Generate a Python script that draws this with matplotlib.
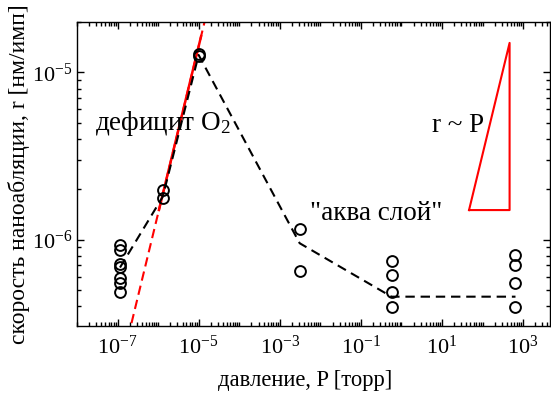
import numpy as np
import matplotlib
matplotlib.use('Agg')
import matplotlib.pyplot as plt
from matplotlib.ticker import FixedLocator, LogLocator, LogFormatterMathtext, NullFormatter

plt.rcParams['font.family'] = ['Liberation Serif', 'DejaVu Serif']
plt.rcParams['mathtext.fontset'] = 'custom'
plt.rcParams['mathtext.rm'] = 'Liberation Serif'
plt.rcParams['mathtext.it'] = 'Liberation Serif:italic'
plt.rcParams['mathtext.default'] = 'regular'

# measured points: pressure [torr] and ablation rate [nm/pulse]
p_meas = [1.15e-7] * 7 + [1.3e-6] * 2 + [1.0e-5] * 2 + [3.1e-3] * 2 + [0.57] * 4 + [650] * 4
r_meas = [9.24e-7, 8.71e-7, 7.10e-7, 6.87e-7, 5.85e-7, 5.46e-7, 4.87e-7,
          1.97e-6, 1.78e-6,
          1.26e-5, 1.29e-5,
          1.15e-6, 6.47e-7,
          7.45e-7, 6.12e-7, 4.87e-7, 3.93e-7,
          8.05e-7, 7.00e-7, 5.53e-7, 3.93e-7]

# guide line through the data
p_trend = [1.15e-7, 1.3e-6, 1.0e-5, 3.1e-3, 0.57, 650]
r_trend = [6.8e-7, 1.8e-6, 1.27e-5, 9.5e-7, 4.55e-7, 4.55e-7]

# linear law r = k*P
k_lin = 1.43
p_lin = [1e-8, 5e3]
p_fit = [1.05e-6, 1.15e-5]

# slope triangle
tri_p = [46.5, 465, 465, 46.5]
tri_r = [1.5e-6, 1.5e-5, 1.5e-6, 1.5e-6]

fig = plt.figure(figsize=(5.51, 3.93), dpi=100)
ax = fig.add_axes([0.1397, 0.1712, 0.8584, 0.7728])
ax.set_xscale('log')
ax.set_yscale('log')

ax.plot(p_lin, [k_lin * p for p in p_lin], '--', color='#ff0000', lw=1.5, dashes=(4.5, 2.5))
ax.plot(p_fit, [k_lin * p for p in p_fit], '-', color='#ff0000', lw=1.8)
ax.plot(p_trend, r_trend, '--', color='black', lw=1.5, dashes=(4.5, 2.8))
ax.plot(p_meas, r_meas, 'o', mfc='none', mec='black', ms=7.8, mew=1.4)
ax.plot(tri_p, tri_r, '-', color='#ff0000', lw=1.5)

ax.text(2.8e-8, 4.49e-6, u'дефицит O$_2$', fontsize=19.5, va='baseline', ha='left')
ax.text(5.6, 4.39e-6, u'r ~ P', fontsize=19.5, va='baseline', ha='left')
ax.text(5.6e-3, 1.30e-6, u'"аква слой"', fontsize=19.5, va='baseline', ha='left')

ax.set_xlim(1e-8, 4.6e3)
ax.set_ylim(3.05e-7, 2e-5)

ax.xaxis.set_major_locator(FixedLocator([1e-7, 1e-5, 1e-3, 1e-1, 1e1, 1e3]))
ax.xaxis.set_minor_locator(LogLocator(base=10, subs=np.arange(1, 10), numticks=30))
ax.yaxis.set_major_locator(FixedLocator([1e-6, 1e-5]))
ax.yaxis.set_minor_locator(LogLocator(base=10, subs=np.arange(1, 10), numticks=30))
ax.xaxis.set_major_formatter(LogFormatterMathtext())
ax.yaxis.set_major_formatter(LogFormatterMathtext())
ax.xaxis.set_minor_formatter(NullFormatter())
ax.yaxis.set_minor_formatter(NullFormatter())

ax.tick_params(which='both', direction='in', top=True, right=True, width=1.0, labelsize=16)
ax.tick_params(which='major', length=5)
ax.tick_params(which='minor', length=3)
ax.tick_params(axis='x', which='major', pad=7)
for s in ax.spines.values():
    s.set_linewidth(1.0)

ax.set_xlabel(u'давление, P [торр]', fontsize=16.3, labelpad=6)
ax.xaxis.set_label_coords(0.483, -0.145)
ax.xaxis.label.set_va('top')
ax.set_ylabel(u'скорость наноабляции, r [нм/имп]', fontsize=17, labelpad=1)

plt.savefig('out.png', dpi=100)
